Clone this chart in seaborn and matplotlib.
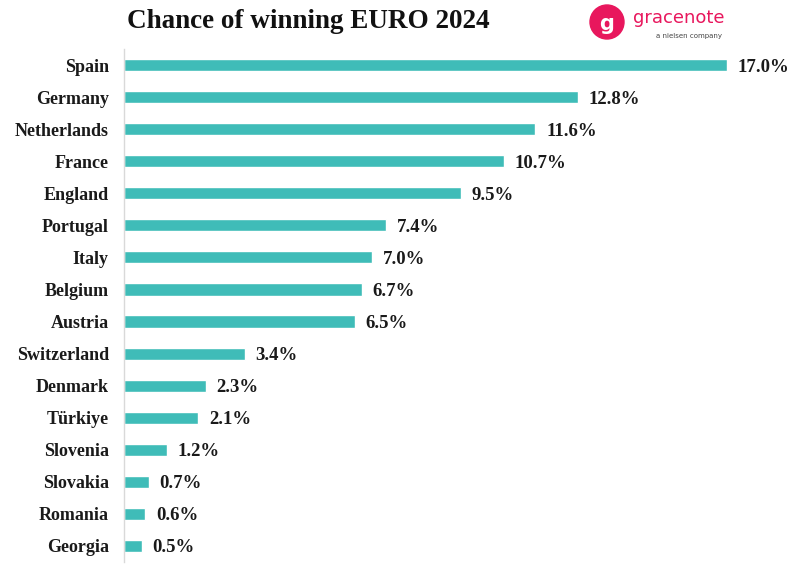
import matplotlib
matplotlib.use("Agg")
import matplotlib.pyplot as plt
import seaborn as sns
import pandas as pd
from matplotlib.patches import Ellipse

teams = ["Spain", "Germany", "Netherlands", "France", "England", "Portugal", "Italy",
         "Belgium", "Austria", "Switzerland", "Denmark", "Türkiye", "Slovenia",
         "Slovakia", "Romania", "Georgia"]
chances = [17.0, 12.8, 11.6, 10.7, 9.5, 7.4, 7.0, 6.7, 6.5, 3.4, 2.3, 2.1, 1.2, 0.7, 0.6, 0.5]
title = "Chance of winning EURO 2024"

df = pd.DataFrame({"team": teams, "chance": chances})

sns.set_theme(style="white")
plt.rcParams["font.family"] = ["Liberation Serif", "DejaVu Serif"]

fig = plt.figure(figsize=(8, 5.67), dpi=100)
ax = fig.add_axes([124/800, 1-562/567, (727-124)/800, (562-49)/567])

sns.barplot(data=df, y="team", x="chance", orient="h", color="#3fbcb8",
            saturation=1, width=0.38, ax=ax)

ax.set_xlim(0, 17)
ax.set_ylim(15.5, -0.5)
ax.set_xlabel("")
ax.set_ylabel("")
ax.set_xticks([])
for s in ["top", "right", "bottom"]:
    ax.spines[s].set_visible(False)
ax.spines["left"].set_color("#d9d9d9")
ax.spines["left"].set_linewidth(1)
ax.tick_params(axis="y", length=0, pad=11)
for lbl in ax.get_yticklabels():
    lbl.set_fontweight("bold")
    lbl.set_fontsize(13)
    lbl.set_color("#1a1a1a")
    lbl.set_verticalalignment("center_baseline")

for i, v in enumerate(chances):
    ax.text(v + 0.3, i, f"{v:.1f}%", va="center_baseline", ha="left", fontsize=13.5,
            fontweight="bold", color="#1a1a1a", clip_on=False)

fig.text(127/800, 1-22/567, title, fontsize=19.5, fontweight="bold", va="center",
         ha="left", color="#111111")

# logo
circ = Ellipse((607/800, 1-22/567), 34/800, 34/567, transform=fig.transFigure,
               color="#e8175d", zorder=5)
fig.patches.append(circ)
fig.text(607/800, 1-22/567, "g", fontsize=15, color="white", fontweight="bold",
         ha="center", va="center_baseline", family="DejaVu Sans", zorder=6)
fig.text(633/800, 1-18/567, "gracenote", fontsize=13, color="#e8175d",
         ha="left", va="center", family="DejaVu Sans")
fig.text(722/800, 1-36/567, "a nielsen company", fontsize=5, color="#444444",
         ha="right", va="center", family="DejaVu Sans")

fig.savefig("out.png", dpi=100)
